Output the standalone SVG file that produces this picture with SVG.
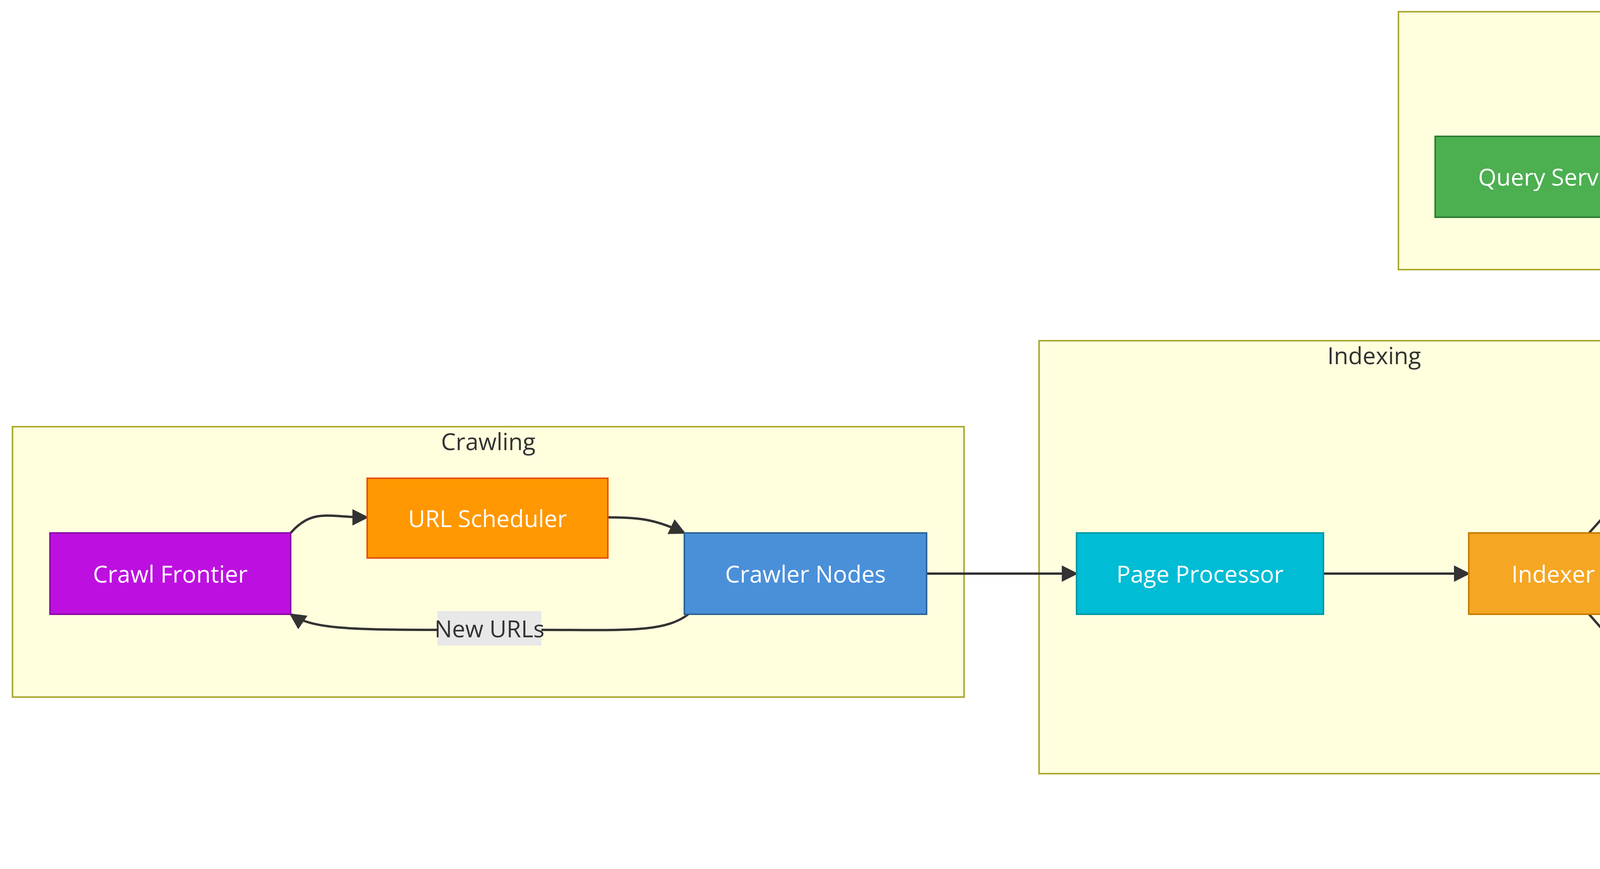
<svg xmlns="http://www.w3.org/2000/svg" width="6272" height="2224" viewBox="0 0 6272 2224">
<style>
.cl{fill:#ffffde;stroke:#aaaa33;stroke-width:4}
.ct{font-family:"Open Sans","DejaVu Sans",sans-serif;font-size:60px;fill:#333;text-anchor:middle}
.nt{font-family:"Open Sans","DejaVu Sans",sans-serif;font-size:60px;fill:#fff;text-anchor:middle;dominant-baseline:central}
.e{fill:none;stroke:#333;stroke-width:6}
.e2{fill:none;stroke:#333;stroke-width:4}
</style>
<defs>
<marker id="ah" viewBox="0 0 10 10" refX="9" refY="5" markerWidth="6" markerHeight="6" markerUnits="userSpaceOnUse" orient="auto"><path d="M0,0L10,5L0,10z" fill="#333"/></marker>
<marker id="a" viewBox="0 0 10 10" refX="9" refY="5" markerWidth="7" markerHeight="7" orient="auto"><path d="M0,0L10,5L0,10z" fill="#333"/></marker>
</defs>
<g id="clusters">
<rect class="cl" x="32" y="1092" width="2436" height="692"/><text class="ct" x="1250" y="1152">Crawling</text>
<rect class="cl" x="2660" y="872" width="1716" height="1108"/><text class="ct" x="3518" y="932">Indexing</text>
<rect class="cl" x="4564" y="764" width="612" height="1400"/><text class="ct" x="4870" y="824">Index Storage</text>
<rect class="cl" x="3580" y="30" width="2597" height="660"/><text class="ct" x="4878" y="90">Query Path</text>
<rect class="cl" x="5364" y="1156" width="816" height="472"/><text class="ct" x="5772" y="1216">Output</text>
</g>
<g id="edges">
<path class="e" marker-end="url(#a)" d="M744,1364 C800,1300 840,1324 940,1324"/>
<path class="e" marker-end="url(#a)" d="M1556,1324 C1640,1324 1680,1330 1752,1364"/>
<path class="e" marker-end="url(#a)" d="M1762,1572 C1700,1620 1600,1612 1380,1612 L1140,1612 C900,1612 800,1610 744,1572"/>
<path class="e" marker-end="url(#a)" d="M2372,1468 L2756,1468"/>
<path class="e" marker-end="url(#a)" d="M3388,1468 L3760,1468"/>
<path class="e" marker-end="url(#a)" d="M4068,1364 C4200,1220 4340,1028 4440,1028 L4740,1028"/>
<path class="e" marker-end="url(#a)" d="M4192,1468 C4400,1464 4600,1464 4740,1464"/>
<path class="e" marker-end="url(#a)" d="M4068,1572 C4200,1720 4340,1912 4440,1912 L4740,1912"/>
<path class="e" marker-end="url(#a)" d="M4280,376 C4340,350 4380,344 4440,344 L4662,344"/>
<path class="e" marker-end="url(#a)" d="M5080,312 C5150,292 5200,296 5260,296 L5566,296"/>
<path class="e2" marker-end="url(#a)" d="M5080,412 C5160,470 5220,464 5290,464 C5340,464 5360,520 5410,720 L5724,1288"/>
<path class="e2" marker-end="url(#a)" d="M4280,416 C4340,404 4380,404 4480,404 C4540,404 4560,460 4600,560 L4752,900"/>
<path class="e2" marker-end="url(#a)" d="M4280,492 C4340,508 4380,508 4480,508 C4540,508 4560,580 4600,700 L4836,1340"/>
<path class="e2" marker-end="url(#a)" d="M4280,532 C4340,570 4380,572 4480,572 C4540,572 4560,640 4600,760 L4848,1780"/>
</g>
<g id="edge-label"><rect x="1120" y="1564" width="266" height="88" fill="#e8e8e8"/><text x="1253" y="1608" font-family="Open Sans, DejaVu Sans, sans-serif" font-size="60" fill="#333" text-anchor="middle" dominant-baseline="central">New URLs</text></g>
<g id="crawl-frontier"><rect x="128" y="1364" width="616" height="208" fill="#bd10e0" stroke="#8b0aa5" stroke-width="4"/><text class="nt" x="436" y="1468">Crawl Frontier</text></g>
<g id="url-scheduler"><rect x="940" y="1224" width="616" height="204" fill="#ff9800" stroke="#e65100" stroke-width="4"/><text class="nt" x="1248" y="1326">URL Scheduler</text></g>
<g id="crawler-nodes"><rect x="1752" y="1364" width="620" height="208" fill="#4a90d9" stroke="#2c6496" stroke-width="4"/><text class="nt" x="2062" y="1468">Crawler Nodes</text></g>
<g id="page-processor"><rect x="2756" y="1364" width="632" height="208" fill="#00bcd4" stroke="#0097a7" stroke-width="4"/><text class="nt" x="3072" y="1468">Page Processor</text></g>
<g id="indexer"><rect x="3760" y="1364" width="432" height="208" fill="#f5a623" stroke="#c77c02" stroke-width="4"/><text class="nt" x="3976" y="1468">Indexer</text></g>
<g id="shard-1"><path d="M4742,940 a129.5,40 0 0 1 259,0 v168 a129.5,40 0 0 1 -259,0 z" fill="#7b68ee" stroke="#4b3cb8" stroke-width="4"/><path d="M4742,940 a129.5,40 0 0 0 259,0" fill="none" stroke="#4b3cb8" stroke-width="4"/><text class="nt" x="4871" y="1060">Shard 1</text></g>
<g id="shard-2"><path d="M4742,1380 a129.5,40 0 0 1 259,0 v168 a129.5,40 0 0 1 -259,0 z" fill="#7b68ee" stroke="#4b3cb8" stroke-width="4"/><path d="M4742,1380 a129.5,40 0 0 0 259,0" fill="none" stroke="#4b3cb8" stroke-width="4"/><text class="nt" x="4871" y="1500">Shard 2</text></g>
<g id="shard-n"><path d="M4742,1820 a129.5,40 0 0 1 259,0 v168 a129.5,40 0 0 1 -259,0 z" fill="#7b68ee" stroke="#4b3cb8" stroke-width="4"/><path d="M4742,1820 a129.5,40 0 0 0 259,0" fill="none" stroke="#4b3cb8" stroke-width="4"/><text class="nt" x="4871" y="1940">Shard N</text></g>
<g id="query-service"><rect x="3674" y="349" width="606" height="207" fill="#4caf50" stroke="#2e7d32" stroke-width="4"/><text class="nt" x="3977" y="452">Query Service</text></g>
<g id="ranker"><rect x="4662" y="239" width="418" height="208" fill="#d0021b" stroke="#8b0012" stroke-width="4"/><text class="nt" x="4871" y="343">Ranker</text></g>
<g id="result-cache"><path d="M5566,208 a204.5,44 0 0 1 409,0 v192 a204.5,44 0 0 1 -409,0 z" fill="#9e9e9e" stroke="#616161" stroke-width="4"/><path d="M5566,208 a204.5,44 0 0 0 409,0" fill="none" stroke="#616161" stroke-width="4"/><text class="nt" x="5770" y="340">Result Cache</text></g>
<g id="search-results"><rect x="5460" y="1288" width="620" height="208" fill="#4caf50" stroke="#2e7d32" stroke-width="4"/><text class="nt" x="5770" y="1392">Search Results</text></g>
</svg>
